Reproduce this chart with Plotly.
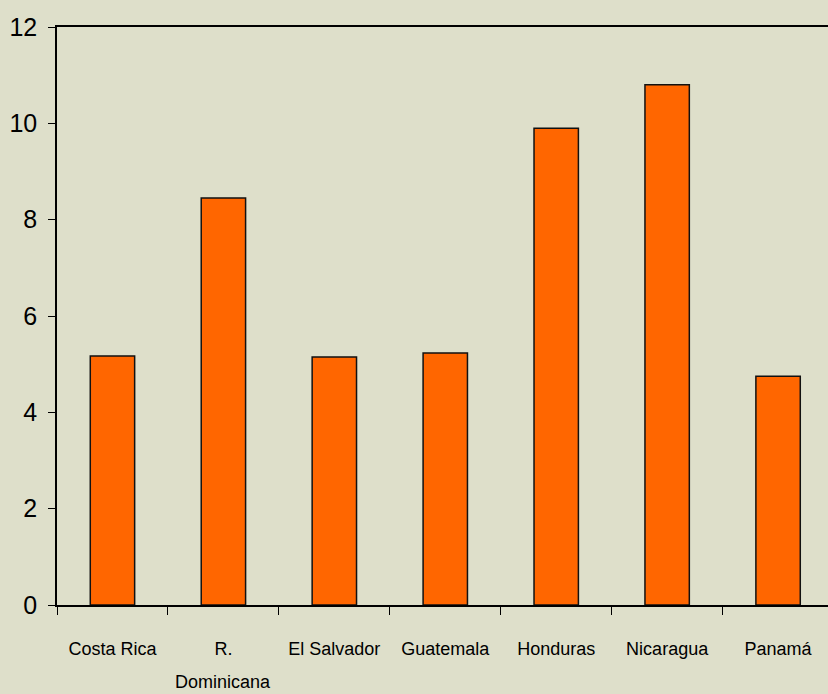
import plotly.graph_objects as go

# Countries and their values
countries = ["Costa Rica", "R. Dominicana", "El Salvador", "Guatemala",
             "Honduras", "Nicaragua", "Panamá"]
values = [5.17, 8.45, 5.15, 5.23, 9.90, 10.80, 4.75]
y_ticks = [0, 2, 4, 6, 8, 10, 12]

BG = "#dedfca"
FONT = "Liberation Sans Narrow, Arial Narrow, Liberation Sans, sans-serif"

# Two-word names break onto a second, more widely spaced line
first_lines = [c.split(" ", 1)[0] if c.startswith("R. ") else c for c in countries]
second_lines = {c: c.split(" ", 1)[1] for c in countries if c.startswith("R. ")}

fig = go.Figure(
    go.Bar(
        x=countries,
        y=values,
        width=0.4,
        marker=dict(color="#ff6600", line=dict(color="#111111", width=1.5)),
    )
)

for cat, text in second_lines.items():
    fig.add_annotation(
        x=cat, xref="x", y=0, yref="paper",
        text=text, showarrow=False,
        yanchor="top", yshift=-65,
        font=dict(size=18, family=FONT, color="#000000"),
    )

fig.update_layout(
    width=828,
    height=694,
    margin=dict(l=57, r=0, t=27, b=89),
    paper_bgcolor=BG,
    plot_bgcolor=BG,
    showlegend=False,
    font=dict(family=FONT, color="#000000"),
)

fig.update_xaxes(
    type="category",
    range=[-0.5, 6.45],
    tickvals=countries,
    ticktext=first_lines,
    showline=True,
    linecolor="#000000",
    linewidth=1.5,
    mirror=True,
    ticks="outside",
    tickson="boundaries",
    ticklen=8,
    tickcolor="#000000",
    tickwidth=1,
    showgrid=False,
    ticklabelstandoff=27,
    tickfont=dict(size=18, family=FONT),
)

fig.update_yaxes(
    range=[0, 12],
    tickvals=y_ticks,
    ticktext=[str(v) for v in y_ticks],
    showline=True,
    linecolor="#000000",
    linewidth=1.5,
    ticks="outside",
    ticklen=7,
    tickcolor="#000000",
    showgrid=False,
    zeroline=False,
    ticklabelstandoff=6,
    tickfont=dict(size=25, family=FONT),
)

fig.write_html("out.html")
